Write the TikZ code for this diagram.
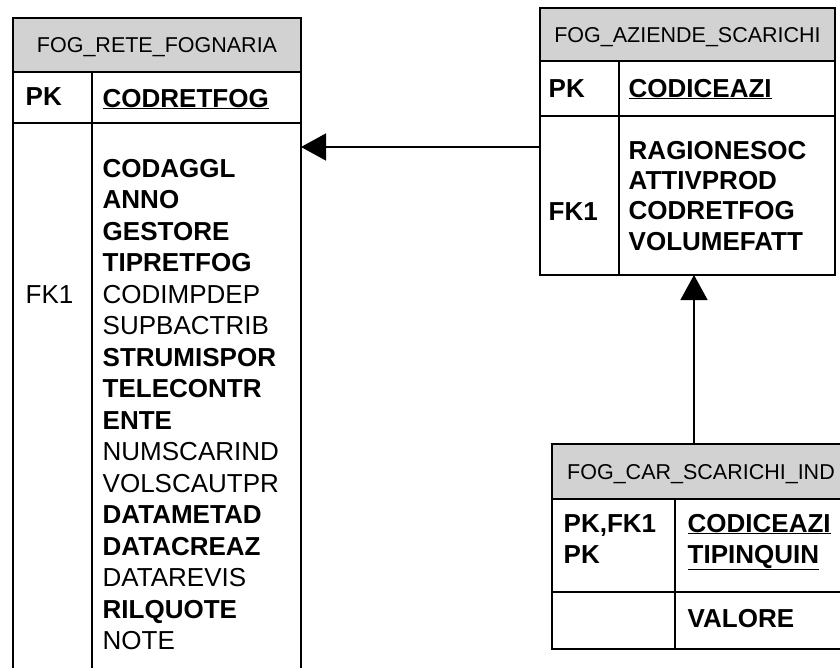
\documentclass[tikz,border=0pt]{standalone}
\usepackage{fontspec}
\setmainfont{Liberation Sans}
\usetikzlibrary{arrows.meta,positioning}

\definecolor{hdrgray}{RGB}{210,210,210}

\tikzset{
  tblhead/.style={draw, fill=hdrgray, inner sep=0pt, outer sep=0pt, anchor=north west,
    font=\fontsize{21.5}{24}\selectfont, text height=15.4pt, text depth=0pt},
  tblpart/.style={draw, inner sep=0pt, outer sep=0pt},
  fldtext/.style={anchor=base west, inner sep=0pt, font=\fontsize{26}{31.5}\selectfont},
  keytext/.style={fldtext, font=\fontsize{26}{31.5}\selectfont\bfseries}
}

\begin{document}
\begin{tikzpicture}[x=1pt, y=-1pt, line width=1.4pt, >={Triangle[length=25pt,width=27pt]}]
  \useasboundingbox (0,0) rectangle (840,667);
  \clip (0,0) rectangle (840,667);

  % FOG_RETE_FOGNARIA
  \node[tblhead, minimum width=288pt, minimum height=54pt] (rete) at (13,18) {FOG\_RETE\_FOGNARIA};
  \node[tblpart, minimum width=288pt, minimum height=51pt, below=0pt of rete] (retepk) {};
  \node[tblpart, minimum width=288pt, minimum height=600pt, below=0pt of retepk] (retebody) {};
  \draw ([xshift=79pt]retepk.north west) -- ([xshift=79pt]retebody.south west);

  \node[keytext] (retepkl) at (25,105) {PK};
  \node[keytext] (retepkf) at (102,107) {\underline{CODRETFOG}};
  \node[fldtext] (retefk) at (25,303) {FK1};
  \foreach \fld [count=\i from 0] in {\bfseries CODAGGL, \bfseries ANNO, \bfseries GESTORE,
      \bfseries TIPRETFOG, CODIMPDEP, SUPBACTRIB, \bfseries STRUMISPOR, \bfseries TELECONTR,
      \bfseries ENTE, NUMSCARIND, VOLSCAUTPR, \bfseries DATAMETAD, \bfseries DATACREAZ,
      DATAREVIS, \bfseries RILQUOTE, NOTE}
    \node[fldtext] (retef\i) at (102,{177+31.5*\i}) {\fld};

  % FOG_AZIENDE_SCARICHI
  \node[tblhead, minimum width=295pt, minimum height=53pt] (azi) at (540,8) {FOG\_AZIENDE\_SCARICHI};
  \node[tblpart, minimum width=295pt, minimum height=55pt, below=0pt of azi] (azipk) {};
  \node[tblpart, minimum width=295pt, minimum height=159pt, below=0pt of azipk] (azibody) {};
  \draw ([xshift=79pt]azipk.north west) -- ([xshift=79pt]azibody.south west);

  \node[keytext] (azipkl) at (548,97) {PK};
  \node[keytext] (azipkf) at (628,97) {\underline{CODICEAZI}};
  \node[keytext] (azifk) at (548,220) {FK1};
  \foreach \fld [count=\i from 0] in {RAGIONESOC, ATTIVPROD, CODRETFOG, VOLUMEFATT}
    \node[keytext] (azif\i) at (628,{159+30.4*\i}) {\fld};

  % FOG_CAR_SCARICHI_IND
  \node[tblhead, minimum width=298pt, minimum height=55pt] (car) at (552,444) {FOG\_CAR\_SCARICHI\_IND};
  \node[tblpart, minimum width=298pt, minimum height=93pt, below=0pt of car] (carpk) {};
  \node[tblpart, minimum width=298pt, minimum height=57pt, below=0pt of carpk] (carbody) {};
  \draw ([xshift=123pt]carpk.north west) -- ([xshift=123pt]carbody.south west);

  \node[keytext] (carpkl) at (563,532) {PK,FK1};
  \node[keytext] (carpkl2) at (563,563) {PK};
  \node[keytext] (carpkf) at (687,532) {\underline{CODICEAZI}};
  \node[keytext] (carpkf2) at (687,563) {\underline{TIPINQUIN}};
  \node[keytext] (carf0) at (687,627) {VALORE};

  % relationships
  \coordinate (fkleft) at ([yshift=-31pt]azibody.north west);
  \draw[->] (fkleft) -- (fkleft -| retebody.east);
  \coordinate (fkup) at ([xshift=-7pt]car.north);
  \draw[->] (fkup) -- (fkup |- azibody.south);
\end{tikzpicture}
\end{document}
